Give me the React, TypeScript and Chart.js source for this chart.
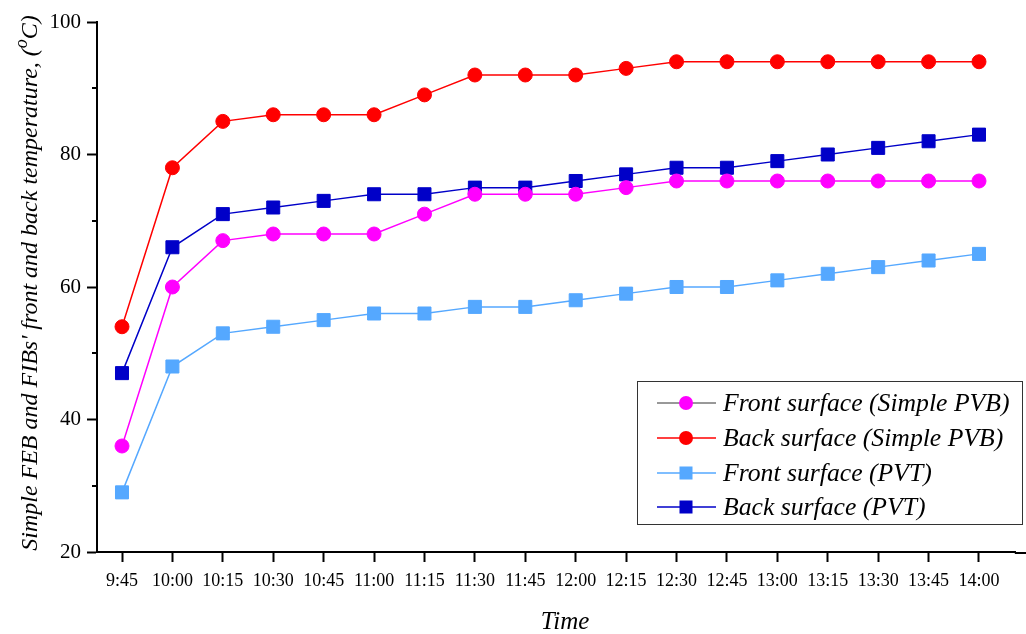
import { useEffect, useRef } from 'react';
import { Chart, registerables } from 'chart.js';

Chart.register(...registerables);

const timeLabels = ['9:45', '10:00', '10:15', '10:30', '10:45', '11:00', '11:15', '11:30', '11:45', '12:00', '12:15', '12:30', '12:45', '13:00', '13:15', '13:30', '13:45', '14:00'];
const frontSimplePVB = [36, 60, 67, 68, 68, 68, 71, 74, 74, 74, 75, 76, 76, 76, 76, 76, 76, 76];
const backSimplePVB = [54, 78, 85, 86, 86, 86, 89, 92, 92, 92, 93, 94, 94, 94, 94, 94, 94, 94];
const frontPVT = [29, 48, 53, 54, 55, 56, 56, 57, 57, 58, 59, 60, 60, 61, 62, 63, 64, 65];
const backPVT = [47, 66, 71, 72, 73, 74, 74, 75, 75, 76, 77, 78, 78, 79, 80, 81, 82, 83];
const yMajorTicks = [20, 40, 60, 80, 100];
const yMinorTicks = [30, 50, 70, 90];

const seriesNames = ['Front surface (Simple PVB)', 'Back surface (Simple PVB)', 'Front surface (PVT)', 'Back surface (PVT)'];
const seriesColors = ['#FF00FF', '#FF0000', '#55A8FF', '#0000C8'];
const legendLineColors = ['#333333', '#FF0000', '#55A8FF', '#0000C8'];
const seriesShapes = ['circle', 'circle', 'rect', 'rect'];
const seriesValues = [frontSimplePVB, backSimplePVB, frontPVT, backPVT];

const SERIF = '"Liberation Serif", "Times New Roman", serif';

const decorPlugin = {
  id: 'decor',
  afterDraw(chart: any) {
    const ctx = chart.ctx;
    const y = chart.scales.y;
    const area = chart.chartArea;
    ctx.save();
    ctx.strokeStyle = '#000';
    ctx.lineWidth = 2;
    // extend x axis line to the right edge
    ctx.beginPath();
    ctx.moveTo(area.right - 1, area.bottom + 1);
    ctx.lineTo(chart.width, area.bottom + 1);
    ctx.stroke();
    // minor ticks on y
    yMinorTicks.forEach((v) => {
      const py = Math.round(y.getPixelForValue(v));
      ctx.beginPath();
      ctx.moveTo(area.left, py);
      ctx.lineTo(area.left - 5, py);
      ctx.stroke();
    });
    // x title
    ctx.fillStyle = '#000';
    ctx.font = 'italic 25px ' + SERIF;
    ctx.textAlign = 'center';
    ctx.textBaseline = 'alphabetic';
    ctx.fillText('Time', 565, 629);
    // y title with superscript
    const main = "Simple FEB and FIBs' front and back temperature, (";
    const sup = 'o';
    const tail = 'C)';
    const f1 = 'italic 24px ' + SERIF;
    const f2 = 'italic 18px ' + SERIF;
    ctx.font = f1;
    const w1 = ctx.measureText(main).width;
    const w3 = ctx.measureText(tail).width;
    ctx.font = f2;
    const w2 = ctx.measureText(sup).width;
    const total = w1 + w2 + w3;
    const cx = 37;
    const cy = 283;
    ctx.translate(cx, cy);
    ctx.rotate(-Math.PI / 2);
    ctx.textAlign = 'left';
    let sx = -total / 2;
    ctx.font = f1;
    ctx.fillText(main, sx, 0);
    sx += w1;
    ctx.font = f2;
    ctx.fillText(sup, sx, -10);
    sx += w2;
    ctx.font = f1;
    ctx.fillText(tail, sx, 0);
    ctx.restore();

    // legend
    ctx.save();
    const bx = 637, by = 381, bw = 385, bh = 143;
    ctx.fillStyle = '#fff';
    ctx.fillRect(bx, by, bw, bh);
    ctx.strokeStyle = '#333';
    ctx.lineWidth = 1;
    ctx.strokeRect(bx + 0.5, by + 0.5, bw, bh);
    const rows = [403, 438, 473, 507];
    ctx.font = 'italic 25.7px ' + SERIF;
    ctx.textBaseline = 'middle';
    ctx.textAlign = 'left';
    rows.forEach((ry, i) => {
      ctx.strokeStyle = legendLineColors[i];
      ctx.lineWidth = i === 0 ? 1 : 1.5;
      ctx.beginPath();
      ctx.moveTo(657, ry);
      ctx.lineTo(716, ry);
      ctx.stroke();
      ctx.fillStyle = seriesColors[i];
      if (seriesShapes[i] === 'circle') {
        ctx.beginPath();
        ctx.arc(686, ry, 7, 0, Math.PI * 2);
        ctx.fill();
      } else {
        ctx.fillRect(686 - 6.5, ry - 6.5, 13, 13);
      }
      ctx.fillStyle = '#000';
      ctx.fillText(seriesNames[i], 723, ry + 1);
    });
    ctx.restore();
  },
};

export default function App() {
  const ref = useRef<HTMLCanvasElement | null>(null);
  useEffect(() => {
    if (!ref.current) return;
    const datasets = seriesValues.map((vals, i) => ({
      label: seriesNames[i],
      data: vals.map((v, j) => ({ x: j, y: v })),
      borderColor: seriesColors[i],
      backgroundColor: seriesColors[i],
      borderWidth: 1.5,
      pointStyle: seriesShapes[i],
      pointRadius: seriesShapes[i] === 'circle' ? 7 : 9.2,
      pointBorderWidth: 1,
      pointBorderColor: seriesColors[i],
      pointBackgroundColor: seriesColors[i],
      tension: 0,
      fill: false,
    }));
    const chart = new Chart(ref.current, {
      type: 'line',
      data: { datasets },
      options: {
        responsive: false,
        animation: false,
        layout: { padding: { top: 22, left: 0, right: 0, bottom: 0 } },
        plugins: { legend: { display: false }, tooltip: { enabled: false } },
        scales: {
          x: {
            type: 'linear',
            min: -0.496,
            max: 17.73,
            afterBuildTicks: (s: any) => {
              s.ticks = timeLabels.map((_, i) => ({ value: i }));
            },
            afterFit: (s: any) => {
              s.height = 82;
            },
            ticks: {
              callback: (v: any) => timeLabels[v] ?? '',
              autoSkip: false,
              maxRotation: 0,
              color: '#000',
              padding: 8,
              font: { family: SERIF, size: 18 },
            },
            grid: { display: true, drawOnChartArea: false, drawTicks: true, tickLength: 10, tickColor: '#000', tickWidth: 2 },
            border: { display: true, color: '#000', width: 2 },
          },
          y: {
            type: 'linear',
            min: 20,
            max: 100,
            afterBuildTicks: (s: any) => {
              s.ticks = yMajorTicks.map((v) => ({ value: v }));
            },
            afterFit: (s: any) => {
              s.width = 97;
            },
            ticks: {
              color: '#000',
              padding: 6,
              font: { family: SERIF, size: 21 },
            },
            grid: { display: true, drawOnChartArea: false, drawTicks: true, tickLength: 10, tickColor: '#000', tickWidth: 2 },
            border: { display: true, color: '#000', width: 2 },
          },
        },
      },
      plugins: [decorPlugin],
    } as any);
    return () => chart.destroy();
  }, []);
  return (
    <div style={{ position: 'absolute', left: 0, top: 0, width: 1026, height: 634, background: '#fff' }}>
      <canvas ref={ref} width={1026} height={634} style={{ display: 'block' }} />
    </div>
  );
}
